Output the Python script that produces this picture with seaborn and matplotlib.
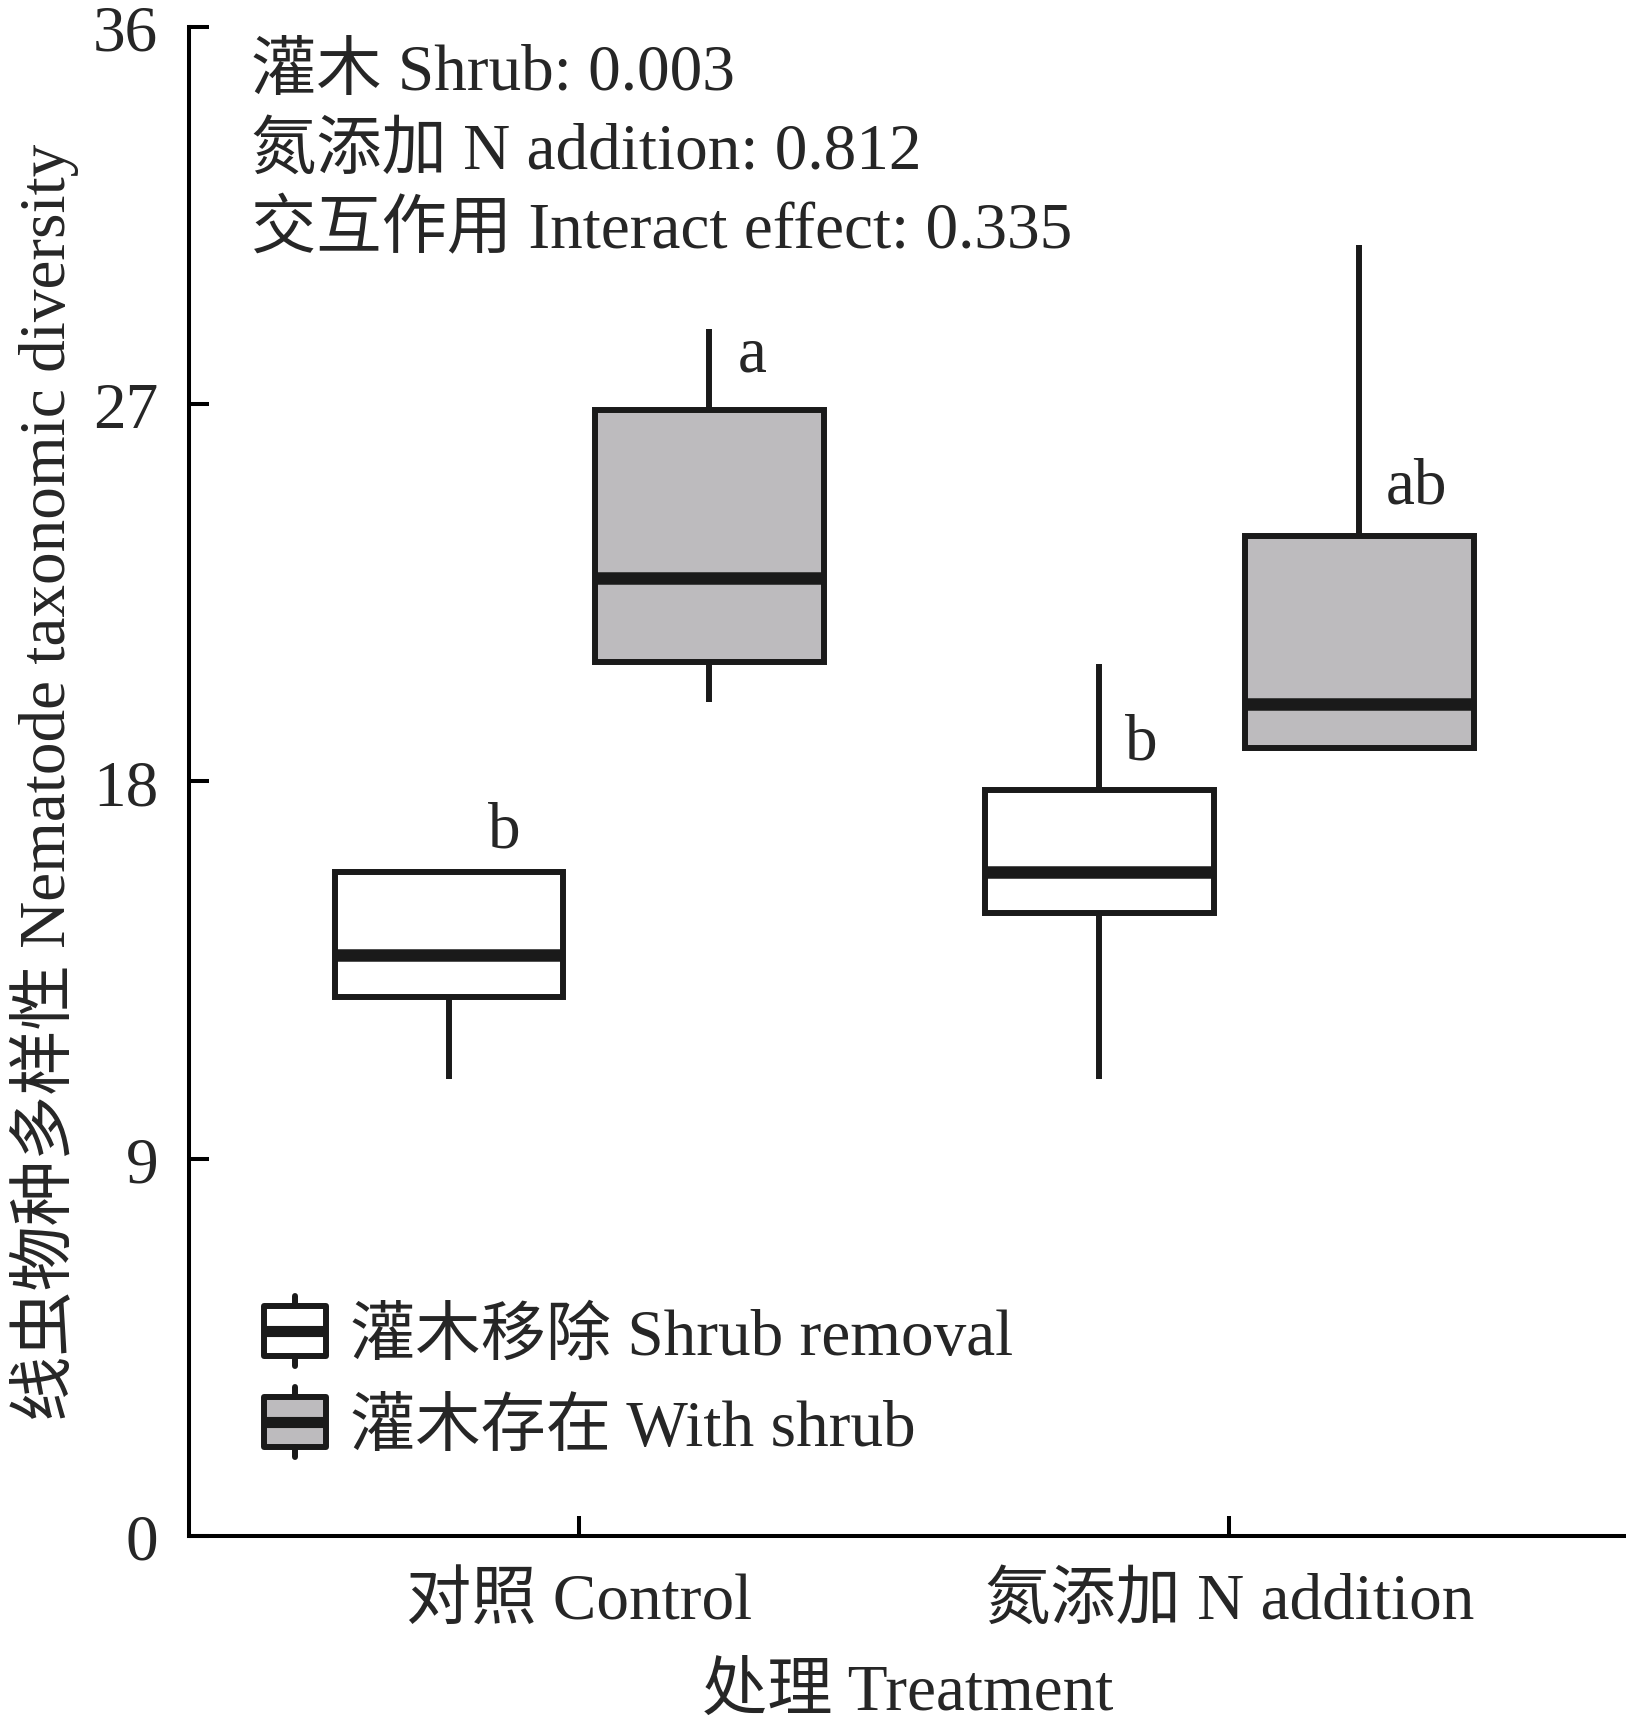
import numpy as np
import pandas as pd
import matplotlib
matplotlib.use("Agg")
import matplotlib.pyplot as plt
import seaborn as sns
from matplotlib.legend_handler import HandlerBase
from matplotlib.patches import Rectangle, Patch
from matplotlib.lines import Line2D

# categories
treatments = ['对照 Control', '氮添加 N addition']
shrub_levels = ['灌木移除 Shrub removal', '灌木存在 With shrub']

# five-number summaries: min, q1, median, q3, max
control_removal = [10.9, 12.85, 13.85, 15.85, 15.85]
control_shrub = [19.9, 20.85, 22.85, 26.85, 28.8]
nadd_removal = [10.9, 14.85, 15.85, 17.8, 20.8]
nadd_shrub = [18.8, 18.8, 19.85, 23.85, 30.8]

# significance letters
letters = ['b', 'a', 'b', 'ab']
letter_y = [16.45, 27.8, 18.55, 24.65]

stats_text = ['灌木 Shrub: 0.003',
              '氮添加 N addition: 0.812',
              '交互作用 Interact effect: 0.335']

box_colors = ['#ffffff', '#bdbbbe']
edge = '#1a1a1a'

rows = []
for trt, sh, vals in [(treatments[0], shrub_levels[0], control_removal),
                      (treatments[0], shrub_levels[1], control_shrub),
                      (treatments[1], shrub_levels[0], nadd_removal),
                      (treatments[1], shrub_levels[1], nadd_shrub)]:
    for v in vals:
        rows.append({'treatment': trt, 'shrub': sh, 'value': v})
df = pd.DataFrame(rows)

sns.set_style('ticks')
fam = ['Liberation Serif', 'Noto Sans CJK SC']
plt.rcParams['font.family'] = fam
fs = 47

fig, ax = plt.subplots(figsize=(16.26, 17.24), dpi=100)
fig.subplots_adjust(left=0.1162, right=1.0, bottom=0.1085, top=0.9838)

sns.boxplot(data=df, x='treatment', y='value', hue='shrub',
            order=treatments, hue_order=shrub_levels,
            palette=box_colors, width=0.8, gap=0.12,
            linewidth=4.3, linecolor=edge, showcaps=False,
            whis=(0, 100), showfliers=False,
            medianprops={'linewidth': 9, 'color': edge},
            legend=False, ax=ax)

# letters above the boxes
offsets = [-0.2, 0.2]
dx = [0.085, 0.066, 0.065, 0.088]
k = 0
for i in range(len(treatments)):
    for j in range(len(shrub_levels)):
        ax.text(i + offsets[j] + dx[k], letter_y[k], letters[k], ha='center',
                va='baseline', fontsize=fs, family=fam)
        k += 1

for n, s in enumerate(stats_text):
    ax.text(0.043, 0.959 - n * 0.0525, s, transform=ax.transAxes,
            ha='left', va='baseline', fontsize=fs, family=fam)


class BoxHandler(HandlerBase):
    def create_artists(self, legend, orig, xdescent, ydescent, width, height,
                       fontsize, trans):
        x0, y0 = -xdescent, -ydescent
        rect = Rectangle((x0, y0), width, height, facecolor=orig.get_facecolor(),
                         edgecolor=edge, lw=4.3, joinstyle='round', transform=trans)
        mid = y0 + height / 2
        med = Line2D([x0, x0 + width], [mid, mid], color=edge, lw=8,
                     solid_capstyle='butt', transform=trans)
        cx = x0 + width / 2
        up = Line2D([cx, cx], [y0 + height, y0 + height + 7], color=edge, lw=4.3,
                    transform=trans)
        dn = Line2D([cx, cx], [y0, y0 - 7], color=edge, lw=4.3, transform=trans)
        return [rect, med, up, dn]


handles = [Patch(facecolor=c, edgecolor=edge) for c in box_colors]
ax.legend(handles, shrub_levels, handler_map={Patch: BoxHandler()},
          loc='lower left', bbox_to_anchor=(0.052, 0.051), frameon=False,
          prop={'family': fam, 'size': fs},
          handlelength=0.96, handleheight=0.81, handletextpad=0.37,
          labelspacing=0.45, borderpad=0, borderaxespad=0)

ax.set_ylim(0, 36)
ax.set_yticks([0, 9, 18, 27, 36])
ax.set_xlim(-0.6, 1.61)
ax.set_ylabel('线虫物种多样性 Nematode taxonomic diversity', fontsize=fs,
              family=fam, labelpad=10)
ax.set_xlabel('处理 Treatment', fontsize=fs, family=fam, labelpad=22)
ax.tick_params(axis='both', direction='in', length=14.4, width=2.9,
               labelsize=fs, color='black')
ax.tick_params(axis='y', pad=22)
ax.tick_params(axis='x', pad=26)
for lab in ax.get_xticklabels() + ax.get_yticklabels():
    lab.set_family(fam)

sns.despine(ax=ax)
for sp in ['left', 'bottom']:
    ax.spines[sp].set_linewidth(2.9)
    ax.spines[sp].set_color('black')

fig.savefig('out.png', dpi=100)
